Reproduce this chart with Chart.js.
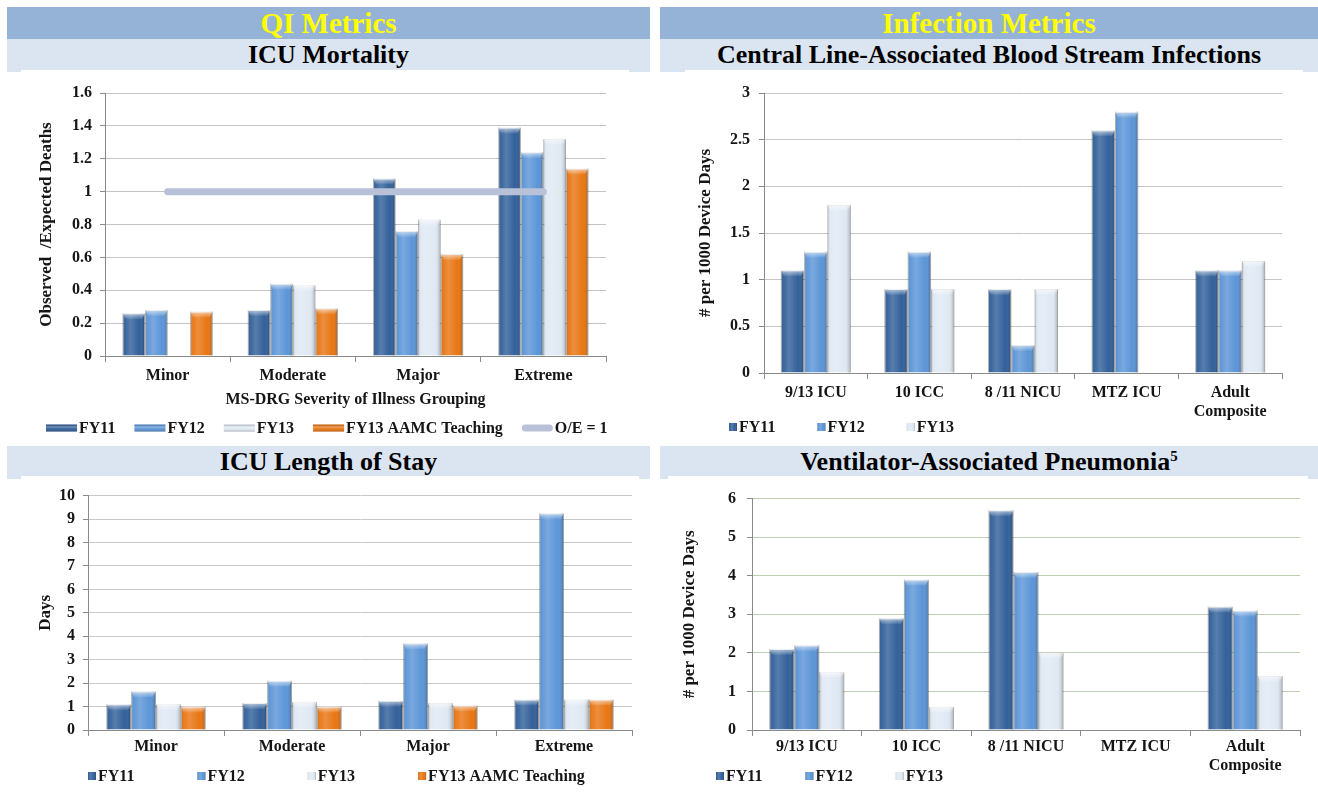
<!DOCTYPE html>
<html>
<head>
<meta charset="utf-8">
<title>ICU Quality and Infection Metrics</title>
<script src="https://cdn.jsdelivr.net/npm/chart.js@4.4.1/dist/chart.umd.min.js"></script>
<style>
  html, body { margin: 0; padding: 0; background: #fff; }
  body { position: relative; width: 1318px; height: 809px; overflow: hidden; font-family: 'Liberation Serif', 'Times New Roman', serif; }
  .band { position: absolute; background: #95b3d7; color: #ffff00; font: bold 29px 'Liberation Serif', serif; text-align: center; height: 32px; line-height: 33px; }
  .sub { position: absolute; background: #dbe5f1; color: #000; font: bold 26px 'Liberation Serif', serif; text-align: center; height: 33px; line-height: 31px; }
  .sub sup { font-size: 15px; vertical-align: 9px; line-height: 0; }
  .inset { position: absolute; background: #fff; height: 3px; }
  .panel { position: absolute; }
  canvas { display: block; }
</style>
</head>
<body>
  <div class="band" style="left:7px;top:7px;width:643px;">QI Metrics</div>
  <div class="band" style="left:660px;top:7px;width:658px;">Infection Metrics</div>
  <div class="sub" style="left:7px;top:39px;width:643px;">ICU Mortality</div>
  <div class="sub" style="left:660px;top:39px;width:658px;">Central Line-Associated Blood Stream Infections</div>
  <div class="inset" style="left:21px;top:70px;width:608px;"></div>
  <div class="inset" style="left:685px;top:70px;width:618px;"></div>

  <div class="sub" style="left:7px;top:446px;width:643px;">ICU Length of Stay</div>
  <div class="sub" style="left:660px;top:446px;width:658px;">Ventilator-Associated Pneumonia<sup>5</sup></div>
  <div class="inset" style="left:21px;top:476px;width:618px;"></div>
  <div class="inset" style="left:668px;top:476px;width:640px;"></div>

  <div class="panel" style="left:7px;top:72px;"><canvas id="mortality" width="643" height="368"></canvas></div>
  <div class="panel" style="left:660px;top:72px;"><canvas id="clabsi" width="658" height="368"></canvas></div>
  <div class="panel" style="left:7px;top:478px;"><canvas id="los" width="643" height="331"></canvas></div>
  <div class="panel" style="left:660px;top:478px;"><canvas id="vap" width="658" height="331"></canvas></div>

<script>
// ---- categories ----
const severityGroups = ['Minor', 'Moderate', 'Major', 'Extreme'];
const icuUnits = ['9/13 ICU', '10 ICC', '8 /11 NICU', 'MTZ ICU', ['Adult', 'Composite']];

// ---- series names ----
const seriesFY11 = 'FY11';
const seriesFY12 = 'FY12';
const seriesFY13 = 'FY13';
const seriesAAMC = 'FY13 AAMC Teaching';
const seriesOE = 'O/E = 1';

// ---- ICU mortality (observed / expected deaths) ----
const mortFY11 = [0.26, 0.28, 1.08, 1.39];
const mortFY12 = [0.28, 0.44, 0.76, 1.24];
const mortFY13 = [null, 0.43, 0.83, 1.32];
const mortAAMC = [0.27, 0.29, 0.62, 1.14];
const mortOE = [1, 1, 1, 1];
const mortTicks = [0, 0.2, 0.4, 0.6, 0.8, 1, 1.2, 1.4, 1.6];

// ---- central line-associated blood stream infections (# per 1000 device days) ----
const clabsiFY11 = [1.1, 0.9, 0.9, 2.6, 1.1];
const clabsiFY12 = [1.3, 1.3, 0.3, 2.8, 1.1];
const clabsiFY13 = [1.8, 0.9, 0.9, null, 1.2];
const clabsiTicks = [0, 0.5, 1, 1.5, 2, 2.5, 3];

// ---- ICU length of stay (days) ----
const losFY11 = [1.1, 1.15, 1.25, 1.3];
const losFY12 = [1.65, 2.1, 3.7, 9.25];
const losFY13 = [1.1, 1.2, 1.15, 1.3];
const losAAMC = [1.0, 1.0, 1.05, 1.3];
const losTicks = [0, 1, 2, 3, 4, 5, 6, 7, 8, 9, 10];

// ---- ventilator-associated pneumonia (# per 1000 device days) ----
const vapFY11 = [2.1, 2.9, 5.7, null, 3.2];
const vapFY12 = [2.2, 3.9, 4.1, null, 3.1];
const vapFY13 = [1.5, 0.6, 2.0, null, 1.4];
const vapTicks = [0, 1, 2, 3, 4, 5, 6];

// ---- styling ----
const INK = '#151515';
const AXIS = '#8a8a8a';
const SERIF = "'Liberation Serif', 'Times New Roman', serif";
const COLORS = {
  fy11: '#2e5d98',
  fy12: '#5893d6',
  fy13: '#dfe8f3',
  aamc: '#e8730e',
  oe: '#b8c1d7'
};

Chart.defaults.font.family = SERIF;
Chart.defaults.color = INK;

// Light/dark shading that gives the bars their rounded, bevelled look
function shadeColumn(ctx, l, t, w, h, cap) {
  const g = ctx.createLinearGradient(l, 0, l + w, 0);
  g.addColorStop(0, 'rgba(0,0,0,0.26)');
  g.addColorStop(0.12, 'rgba(255,255,255,0.06)');
  g.addColorStop(0.35, 'rgba(255,255,255,0.20)');
  g.addColorStop(0.75, 'rgba(255,255,255,0.02)');
  g.addColorStop(1, 'rgba(0,0,0,0.28)');
  ctx.fillStyle = g;
  ctx.fillRect(l, t, w, h);
  if (cap) {
    const c = Math.min(6, h);
    const g2 = ctx.createLinearGradient(0, t, 0, t + c);
    g2.addColorStop(0, 'rgba(255,255,255,0.6)');
    g2.addColorStop(1, 'rgba(255,255,255,0.05)');
    ctx.fillStyle = g2;
    ctx.beginPath();
    ctx.moveTo(l, t);
    ctx.lineTo(l + w, t);
    ctx.lineTo(l + w - 3, t + c);
    ctx.lineTo(l + 3, t + c);
    ctx.closePath();
    ctx.fill();
  }
}

function shadeStrip(ctx, l, t, w, h) {
  const g = ctx.createLinearGradient(0, t, 0, t + h);
  g.addColorStop(0, 'rgba(0,0,0,0.18)');
  g.addColorStop(0.35, 'rgba(255,255,255,0.35)');
  g.addColorStop(0.6, 'rgba(255,255,255,0.05)');
  g.addColorStop(1, 'rgba(0,0,0,0.25)');
  ctx.fillStyle = g;
  ctx.fillRect(l, t, w, h);
}

const bevel = {
  id: 'bevel',
  afterDatasetDraw(chart, args) {
    const meta = args.meta;
    if (meta.type !== 'bar') return;
    const values = chart.data.datasets[args.index].data;
    const ctx = chart.ctx;
    ctx.save();
    meta.data.forEach((el, i) => {
      if (values[i] == null) return;
      const p = el.getProps(['x', 'y', 'base', 'width'], true);
      const top = Math.min(p.y, p.base);
      const h = Math.abs(p.base - p.y);
      shadeColumn(ctx, p.x - p.width / 2, top, p.width, h, true);
    });
    ctx.restore();
  }
};

// Legend row drawn from the chart's own datasets
const keyRow = {
  id: 'keyRow',
  afterDraw(chart, _args, o) {
    if (!o || !o.show) return;
    const ctx = chart.ctx;
    ctx.save();
    ctx.font = 'bold 16px ' + SERIF;
    ctx.textBaseline = 'middle';
    ctx.textAlign = 'left';
    let x = o.x;
    chart.data.datasets.forEach(ds => {
      const top = o.y - o.boxH / 2;
      if (ds.type === 'line') {
        ctx.fillStyle = ds.borderColor;
        ctx.beginPath();
        ctx.roundRect(x, top, o.boxW, o.boxH, o.boxH / 2);
        ctx.fill();
      } else {
        ctx.fillStyle = ds.backgroundColor;
        ctx.fillRect(x, top, o.boxW, o.boxH);
        if (o.boxW > o.boxH * 2) shadeStrip(ctx, x, top, o.boxW, o.boxH);
        else shadeColumn(ctx, x, top, o.boxW, o.boxH, false);
      }
      ctx.fillStyle = INK;
      const tx = x + o.boxW + o.textGap;
      ctx.fillText(ds.label, tx, o.y + 1);
      x = tx + ctx.measureText(ds.label).width + o.gap;
    });
    ctx.restore();
  }
};

function barSet(label, data, color) {
  return {
    type: 'bar',
    label,
    data,
    backgroundColor: color,
    borderColor: 'rgba(40,55,80,0.22)',
    borderWidth: 1,
    order: 0
  };
}

function makeOptions(p) {
  const tickFont = { family: SERIF, size: 16, weight: 'bold' };
  return {
    responsive: false,
    animation: false,
    events: [],
    layout: { padding: { left: 0, top: p.top, right: p.right, bottom: p.bottom } },
    plugins: {
      legend: { display: false },
      tooltip: { enabled: false },
      keyRow: p.key
    },
    datasets: { bar: { categoryPercentage: p.cat, barPercentage: 1 } },
    scales: {
      x: {
        offset: true,
        grid: { display: true, drawOnChartArea: false, offset: true, tickLength: 6, color: AXIS },
        border: { color: AXIS },
        ticks: { font: tickFont, color: INK, padding: p.xPad, maxRotation: 0, autoSkip: false },
        title: {
          display: !!p.xTitle,
          text: p.xTitle || '',
          font: tickFont,
          color: INK,
          padding: { top: 0, bottom: p.xTitlePad || 0 }
        },
        afterFit: s => { s.height = p.xH; }
      },
      y: {
        min: p.ticks[0],
        max: p.ticks[p.ticks.length - 1],
        afterBuildTicks: s => { s.ticks = p.ticks.map(v => ({ value: v })); },
        grid: { color: p.grid, tickColor: AXIS, tickLength: 5 },
        border: { color: AXIS },
        ticks: { font: tickFont, color: INK, padding: p.yPad, callback: v => String(v) },
        title: {
          display: true,
          text: p.yTitle,
          font: { family: SERIF, size: 17, weight: 'bold' },
          color: INK,
          padding: { top: p.yTitlePad, bottom: 0 }
        },
        afterFit: s => { s.width = p.yW; }
      }
    }
  };
}

// ICU Mortality
new Chart(document.getElementById('mortality'), {
  data: {
    labels: severityGroups,
    datasets: [
      barSet(seriesFY11, mortFY11, COLORS.fy11),
      barSet(seriesFY12, mortFY12, COLORS.fy12),
      barSet(seriesFY13, mortFY13, COLORS.fy13),
      barSet(seriesAAMC, mortAAMC, COLORS.aamc),
      {
        type: 'line',
        label: seriesOE,
        data: mortOE,
        borderColor: COLORS.oe,
        backgroundColor: COLORS.oe,
        borderWidth: 7,
        borderCapStyle: 'round',
        pointRadius: 0,
        fill: false,
        order: -1
      }
    ]
  },
  options: makeOptions({
    top: 21, right: 44, bottom: 30, cat: 0.72,
    xH: 54, xPad: 4, xTitle: 'MS-DRG Severity of Illness Grouping', xTitlePad: 1,
    yW: 98, yPad: 8, yTitle: 'Observed  /Expected Deaths', yTitlePad: 29,
    ticks: mortTicks, grid: '#c4c4c4',
    key: { show: true, x: 39, y: 356, boxW: 31, boxH: 7, textGap: 2, gap: 19 }
  }),
  plugins: [bevel, keyRow]
});

// Central Line-Associated Blood Stream Infections
new Chart(document.getElementById('clabsi'), {
  data: {
    labels: icuUnits,
    datasets: [
      barSet(seriesFY11, clabsiFY11, COLORS.fy11),
      barSet(seriesFY12, clabsiFY12, COLORS.fy12),
      barSet(seriesFY13, clabsiFY13, COLORS.fy13)
    ]
  },
  options: makeOptions({
    top: 21, right: 36, bottom: 10, cat: 0.675,
    xH: 57, xPad: 4,
    yW: 104, yPad: 9, yTitle: '# per 1000 Device Days', yTitlePad: 35,
    ticks: clabsiTicks, grid: '#c6c6c6',
    key: { show: true, x: 69, y: 355, boxW: 8, boxH: 8, textGap: 2, gap: 42 }
  }),
  plugins: [bevel, keyRow]
});

// ICU Length of Stay
new Chart(document.getElementById('los'), {
  data: {
    labels: severityGroups,
    datasets: [
      barSet(seriesFY11, losFY11, COLORS.fy11),
      barSet(seriesFY12, losFY12, COLORS.fy12),
      barSet(seriesFY13, losFY13, COLORS.fy13),
      barSet(seriesAAMC, losAAMC, COLORS.aamc)
    ]
  },
  options: makeOptions({
    top: 17, right: 18, bottom: 30, cat: 0.73,
    xH: 49, xPad: 1,
    yW: 81, yPad: 8, yTitle: 'Days', yTitlePad: 28,
    ticks: losTicks, grid: '#c8c8c8',
    key: { show: true, x: 81, y: 298, boxW: 8, boxH: 8, textGap: 2, gap: 63 }
  }),
  plugins: [bevel, keyRow]
});

// Ventilator-Associated Pneumonia
new Chart(document.getElementById('vap'), {
  data: {
    labels: icuUnits,
    datasets: [
      barSet(seriesFY11, vapFY11, COLORS.fy11),
      barSet(seriesFY12, vapFY12, COLORS.fy12),
      barSet(seriesFY13, vapFY13, COLORS.fy13)
    ]
  },
  options: makeOptions({
    top: 18, right: 18, bottom: 30, cat: 0.684,
    xH: 49, xPad: 1,
    yW: 92, yPad: 11, yTitle: '# per 1000 Device Days', yTitlePad: 19,
    ticks: vapTicks, grid: '#bfcdb3',
    key: { show: true, x: 56, y: 298, boxW: 8, boxH: 8, textGap: 2, gap: 43 }
  }),
  plugins: [bevel, keyRow]
});
</script>
</body>
</html>
